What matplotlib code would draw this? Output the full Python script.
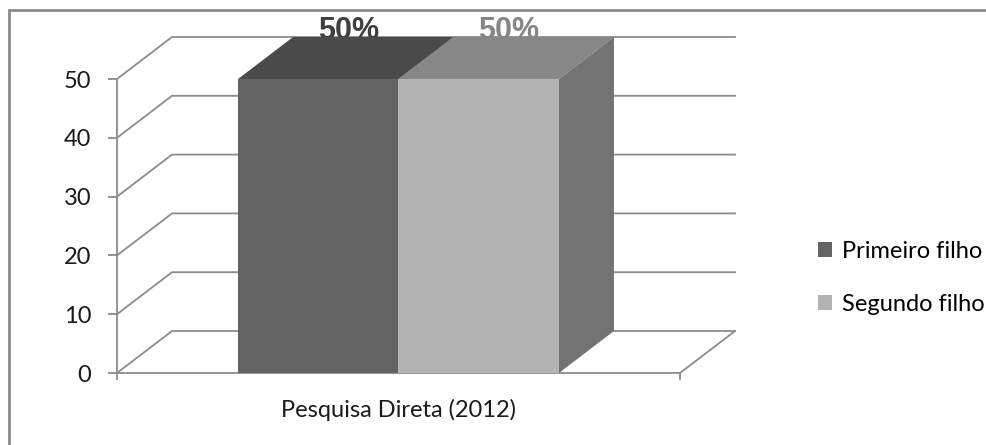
import matplotlib
matplotlib.use("Agg")
import matplotlib.pyplot as plt
from matplotlib.patches import Polygon, Patch, Rectangle

# data
category = "Pesquisa Direta (2012)"
series = ["Primeiro filho", "Segundo filho"]
values = [50, 50]
labels = ["50%", "50%"]
yticks = [0, 10, 20, 30, 40, 50]

# styles
front_cols = ["#636363", "#b3b3b3"]
top_cols = ["#4a4a4a", "#878787"]
side_cols = ["#555555", "#737373"]
label_cols = ["#3f3f3f", "#858585"]
grid_col = "#8c8c8c"

W, H = 986, 445
fig = plt.figure(figsize=(W / 100, H / 100), dpi=100)

# front plane of the 3d box in pixels
px_left, px_right, px_bot, px_top = 117, 680, 373, 79
ax = fig.add_axes([px_left / W, (H - px_bot) / H,
                   (px_right - px_left) / W, (px_bot - px_top) / H])
ax.set_xlim(0, 1)
ax.set_ylim(0, 50)

# depth offset (pixels -> data units)
dx = 55 / (px_right - px_left)
dy = 42 / (px_bot - px_top) * 50

# walls / gridlines
for v in yticks:
    ax.plot([0, dx, 1 + dx], [v, v + dy, v + dy], color=grid_col, lw=1.3,
            clip_on=False, zorder=1)
ax.plot([1, 1 + dx], [0, dy], color=grid_col, lw=1.3, clip_on=False, zorder=1)

# bars
bw = 0.285
xs = [0.5 - bw / 2, 0.5 + bw / 2]
ax.bar(xs, values, width=bw, color=front_cols, zorder=5, linewidth=0)
for i, (x, v) in enumerate(zip(xs, values)):
    x0, x1 = x - bw / 2, x + bw / 2
    top = Polygon([(x0, v), (x1, v), (x1 + dx, v + dy), (x0 + dx, v + dy)],
                  closed=True, facecolor=top_cols[i], edgecolor='none',
                  clip_on=False, zorder=4)
    side = Polygon([(x1, 0), (x1 + dx, dy), (x1 + dx, v + dy), (x1, v)],
                   closed=True, facecolor=side_cols[i], edgecolor='none',
                   clip_on=False, zorder=3 + i)
    ax.add_patch(top)
    ax.add_patch(side)
    ax.text(x + dx / 2 + 0.005, v + 6.8, labels[i], ha='center', va='baseline',
            fontsize=22, fontweight='bold', family='Liberation Sans',
            color=label_cols[i], zorder=2, clip_on=False)

# axes styling
for s in ['top', 'right']:
    ax.spines[s].set_visible(False)
ax.spines['left'].set_color(grid_col)
ax.spines['bottom'].set_color(grid_col)
ax.spines['left'].set_linewidth(1.3)
ax.spines['bottom'].set_linewidth(1.3)
ax.spines['left'].set_zorder(1)
ax.spines['bottom'].set_zorder(1)
ax.set_facecolor('none')
ax.set_yticks(yticks)
ax.set_yticklabels([str(t) for t in yticks], family='Lato', fontsize=17,
                   color='#1a1a1a')
ax.tick_params(axis='y', length=6.5, width=1.3, color=grid_col, pad=12)
ax.set_xticks([0.5])
ax.set_xticklabels([category], family='Lato', fontsize=17, color='#1a1a1a')
ax.set_xticks([0, 1], minor=True)
ax.tick_params(axis='x', which='major', length=0, pad=19)
ax.tick_params(axis='x', which='minor', length=5, width=1.3, color=grid_col)

# legend
handles = [Patch(facecolor=c, edgecolor='none') for c in front_cols]
fig.legend(handles, series, loc='center left', bbox_to_anchor=(797 / W, 1 - 278 / H),
           frameon=False, prop={'family': 'Lato', 'size': 17},
           handlelength=0.6, handleheight=0.6, handletextpad=0.4,
           labelspacing=1.35)

# outer border
fig.add_artist(Rectangle((9 / W, -0.1), 1.2, 1 - 10 / H + 0.1, transform=fig.transFigure,
                         facecolor='none', edgecolor='#8a8a8a', lw=2))

fig.savefig("out.png", dpi=100)
